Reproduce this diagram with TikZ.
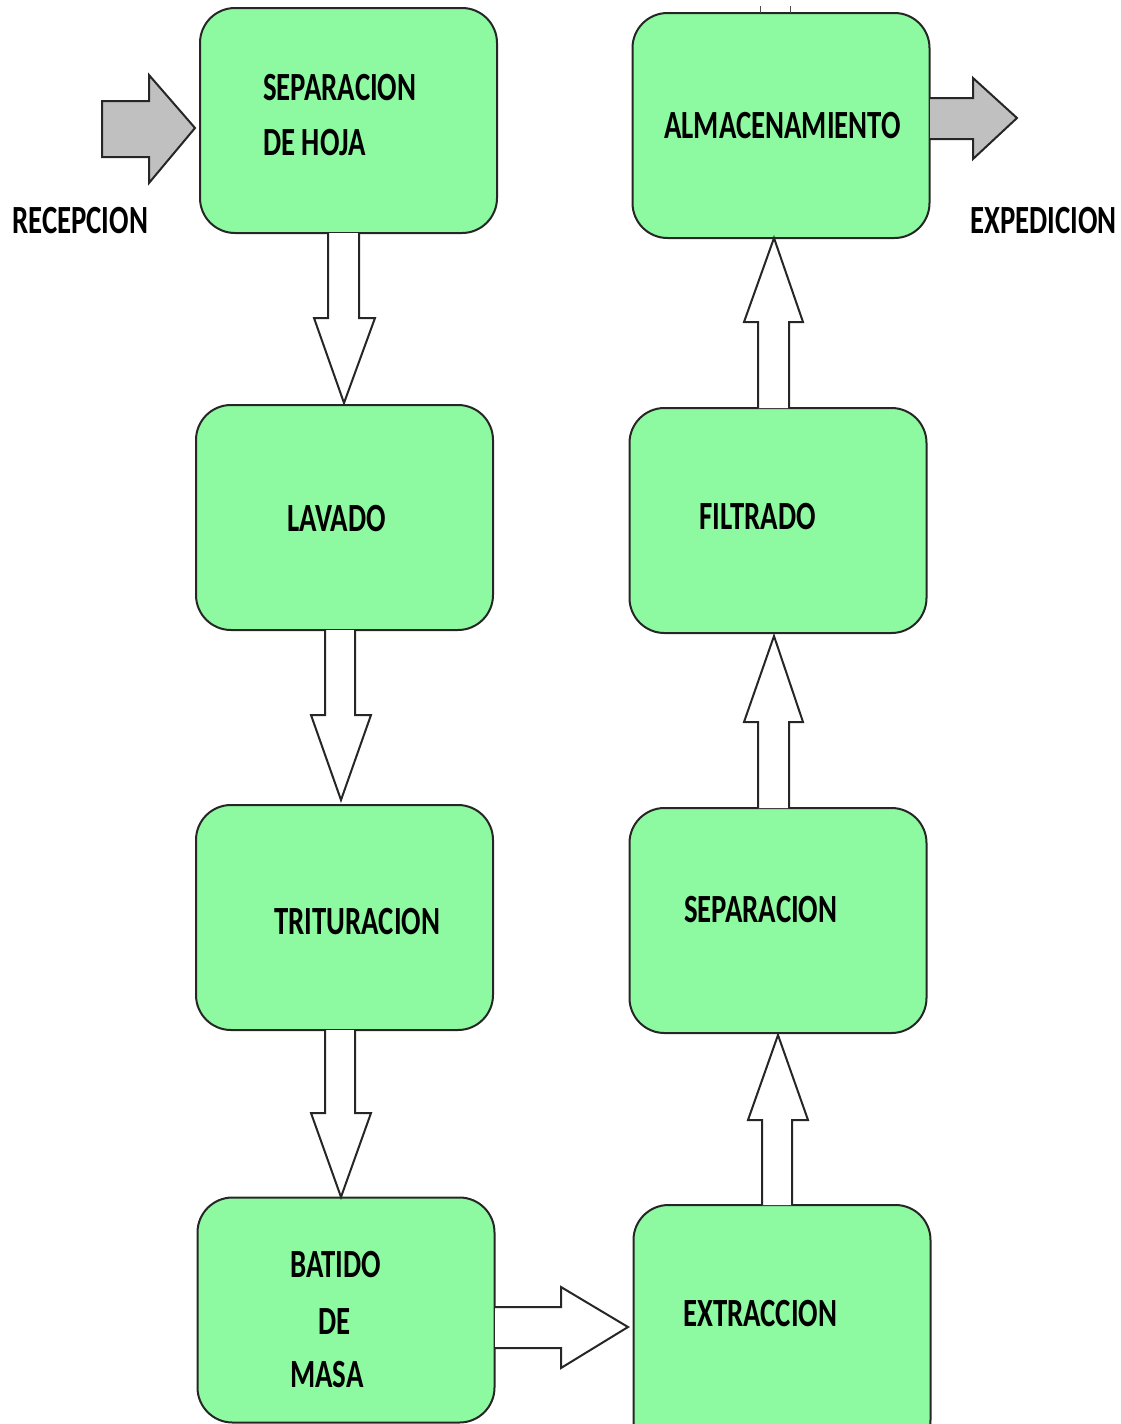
\documentclass[tikz,border=0pt]{standalone}
\usepackage{fontspec}
\setmainfont{Carlito}
\definecolor{boxgreen}{RGB}{141,249,160}
\definecolor{arrgray}{RGB}{192,192,192}
\newcommand\lbl[1]{\scalebox{0.72}[1]{#1}}
\tikzset{
  stepbox/.style={draw=black!85, line width=2pt, fill=boxgreen, rounded corners=35pt,
    minimum width=297pt, minimum height=225pt, inner sep=0pt, outer sep=0pt},
  txt/.style={anchor=base west, inner sep=0pt, font=\fontsize{40}{48}\selectfont\bfseries},
  blockarr/.style={draw=black!85, line width=2pt, fill=white, line join=miter},
  grayarr/.style={draw=black!85, line width=2pt, fill=arrgray, line join=miter}
}
\begin{document}
\begin{tikzpicture}[x=1pt, y=-1pt]
\useasboundingbox (0,0) rectangle (1121,1424);
\clip (0,0) rectangle (1121,1424);
% boxes
\node[stepbox] (sep1) at (348.5,120.5) {};
\node[stepbox] (lav) at (344.5,517.5) {};
\node[stepbox] (tri) at (344.5,917.5) {};
\node[stepbox] (bat) at (346,1310) {};
\node[stepbox] (alm) at (781,125.5) {};
\node[stepbox] (fil) at (778,520.5) {};
\node[stepbox] (sep2) at (778,920.5) {};
\node[stepbox, minimum height=250pt] (ext) at (782,1330) {};
% texts
\node[txt] (t1) at (263,100) {\lbl{SEPARACION}};
\node[txt] (t2) at (263,155) {\lbl{DE HOJA}};
\node[txt] (trec) at (12,233) {\lbl{RECEPCION}};
\node[txt] (texp) at (970,233) {\lbl{EXPEDICION}};
\node[txt] (talm) at (664,138) {\lbl{ALMACENAMIENTO}};
\node[txt] (tlav) at (287,531) {\lbl{LAVADO}};
\node[txt] (tfil) at (699,529) {\lbl{FILTRADO}};
\node[txt] (ttri) at (274,934) {\lbl{TRITURACION}};
\node[txt] (tsep) at (684,922) {\lbl{SEPARACION}};
\node[txt] (tbat) at (290,1277) {\lbl{BATIDO}};
\node[txt] (tde) at (318,1334) {\lbl{DE}};
\node[txt] (tmas) at (290,1387) {\lbl{MASA}};
\node[txt] (text) at (683,1326) {\lbl{EXTRACCION}};
% down block arrows
\draw[blockarr] (328,233) -- (328,318) -- (314,318) -- (344,403) -- (375,318) -- (359,318) -- (359,233);
\draw[blockarr] (325,630) -- (325,715) -- (311,715) -- (341,800) -- (371,715) -- (355,715) -- (355,630);
\draw[blockarr] (325,1030) -- (325,1113) -- (311,1113) -- (341,1197) -- (371,1113) -- (355,1113) -- (355,1030);
% up block arrows
\draw[blockarr] (758,408) -- (758,322) -- (744,322) -- (774,238) -- (803,322) -- (789,322) -- (789,408);
\draw[blockarr] (758,808) -- (758,722) -- (744,722) -- (774,636) -- (803,722) -- (789,722) -- (789,808);
\draw[blockarr] (762,1205) -- (762,1120) -- (748,1120) -- (778,1035) -- (808,1120) -- (792,1120) -- (792,1205);
% right block arrow
\draw[blockarr] (495,1307) -- (561,1307) -- (561,1287) -- (628,1327) -- (561,1368) -- (561,1348) -- (495,1348);
% gray arrows
\draw[grayarr] (102,101) -- (149,101) -- (149,75) -- (195,128) -- (149,183) -- (149,157) -- (102,157) -- cycle;
\draw[grayarr] (930,98) -- (973,98) -- (973,78) -- (1017,118) -- (973,159) -- (973,139) -- (930,139);
% small marks above top-right box
\draw[line width=1pt, black!70] (760,6) -- (760,13) (790,6) -- (790,13);
\end{tikzpicture}
\end{document}
